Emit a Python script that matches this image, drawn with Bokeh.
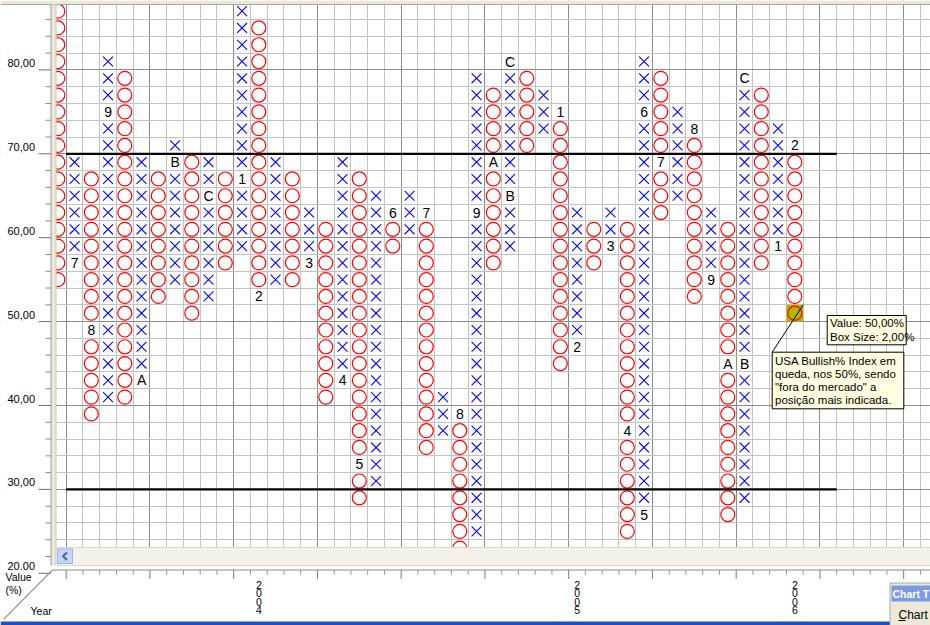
from bokeh.plotting import figure
from bokeh.models import Range1d, FixedTicker, Grid
from bokeh.core.properties import value
from bokeh.embed import file_html
from bokeh.resources import INLINE

# ---------------- data ----------------
BOX = 2  # box size, %
col_type = ["O", "X", "O", "X", "O", "X", "O", "X", "O", "X",
            "O", "X", "O", "X", "O", "X", "O", "X", "O", "X",
            "O", "X", "O", "X", "O", "X", "O", "X", "O", "X",
            "O", "X", "O", "X", "O", "X", "O", "X", "O", "X",
            "O", "X", "O", "X", "O"]
col_low = [54, 56, 38, 40, 40, 42, 52, 54, 50, 52,
           56, 58, 52, 54, 54, 56, 40, 42, 28, 30,
           58, 60, 34, 36, 22, 24, 56, 58, 70, 72,
           44, 46, 56, 58, 24, 26, 62, 64, 52, 54,
           26, 28, 56, 58, 50]
col_high = [86, 68, 66, 80, 78, 68, 66, 70, 68, 68,
            66, 86, 84, 68, 66, 62, 60, 68, 66, 64,
            62, 64, 62, 40, 38, 78, 76, 80, 78, 76,
            74, 62, 60, 62, 60, 80, 78, 74, 72, 62,
            60, 78, 76, 72, 70]
month_col = [1, 2, 3, 5, 7, 9, 11, 12, 15, 17, 18, 20, 22, 24, 25, 26,
             27, 27, 30, 31, 33, 34, 35, 35, 36, 38, 39, 40, 41, 41, 43, 44]
month_val = [56, 48, 74, 42, 68, 64, 66, 52, 56, 42, 32, 62, 62, 38, 62, 68,
             64, 80, 74, 46, 58, 36, 26, 74, 68, 72, 54, 44, 44, 78, 58, 70]
month_txt = ["7", "8", "9", "A", "B", "C", "1", "2", "3", "4", "5", "6", "7", "8", "9", "A",
             "B", "C", "1", "2", "3", "4", "5", "6", "7", "8", "9", "A", "B", "C", "1", "2"]
levels = [70, 30]                 # signal lines
level_cols = [1, 46]              # first / last column spanned by the signal lines
year_labels = ["2004", "2005", "2006"]
year_cols = [12, 31, 44]
y_tick_vals = [20, 30, 40, 50, 60, 70, 80]
y_tick_text = ["20.00", "30,00", "40,00", "50,00", "60,00", "70,00", "80,00"]
y_minor_vals = list(range(20, 88, BOX))
current_col, current_val = 44, 50
tooltip_lines = ["Value: 50,00%", "Box Size: 2,00%"]
note_lines = ["USA Bullish% Index em", "queda, nos 50%, sendo",
              "\"fora do mercado\" a", "posição mais indicada."]
axis_title_y = ["Value", "(%)"]
axis_title_x = "Year"

# ---------------- pixel calibration of the reference window ----------------
W, H = 930, 625
PX_C, PX_U = 16.75, 8.39          # px per column, px per % unit
X0_REF, Y70_REF = 57.3, 153.3     # px of column 0 centre, px of the 70% line


def dx(rx):
    return (rx - X0_REF) / PX_C


def dy(ry):
    return 70 - (ry - Y70_REF) / PX_U


FONT = value("Liberation Sans")

p = figure(width=W, height=H, output_backend="svg", toolbar_location=None,
           x_range=Range1d(dx(0), dx(W)), y_range=Range1d(dy(H), dy(0)),
           x_axis_type=None, y_axis_type=None,
           min_border_left=0, min_border_right=0, min_border_top=0, min_border_bottom=0)
p.outline_line_color = None
p.background_fill_color = "white"
p.border_fill_color = "white"

bounds_all = [c + 0.5 for c in range(-1, 54)]
bounds_major = [b for b in bounds_all if (b - 0.5) % 5 == 0]

# chart grid
p.add_layout(Grid(dimension=0, ticker=FixedTicker(ticks=bounds_major, minor_ticks=bounds_all),
                  grid_line_color="#8c8c8c", minor_grid_line_color="#c3c3c3"), "center")
p.add_layout(Grid(dimension=1, ticker=FixedTicker(ticks=y_tick_vals, minor_ticks=list(range(16, 92, BOX))),
                  grid_line_color="#8c8c8c", minor_grid_line_color="#c3c3c3"), "center")

# current box highlight
p.quad(left=[current_col - 0.5], right=[current_col + 0.5],
       bottom=[current_val], top=[current_val + BOX],
       fill_color="#b4b400", line_color=None)

# X and O boxes
labeled = set(zip(month_col, month_val))
xx, xy, ox, oy = [], [], [], []
for c, (t, lo, hi) in enumerate(zip(col_type, col_low, col_high)):
    for v in range(lo, hi + BOX, BOX):
        if (c, v) in labeled:
            continue
        if t == "X":
            xx.append(c); xy.append(v + BOX / 2)
        else:
            ox.append(c); oy.append(v + BOX / 2)
p.scatter(xx, xy, marker="x", size=14, line_color="#0000ff", line_width=1.1)
p.scatter(ox, oy, marker="circle", size=14, fill_color=None, line_color="#ff0000", line_width=1.2)
p.text(month_col, [v + BOX / 2 for v in month_val], text=month_txt, text_font=FONT,
       text_font_size="14px", text_align="center", text_baseline="middle", text_color="black")

# signal lines
p.segment(x0=[level_cols[0] - 0.5] * len(levels), x1=[level_cols[1] + 0.5] * len(levels),
          y0=levels, y1=levels, line_color="black", line_width=2.2)

# pointer line + callouts
p.segment(x0=[current_col + 0.5], y0=[current_val + BOX], x1=[dx(771.7)], y1=[dy(351.7)],
          line_color="black", line_width=1)
p.quad(left=[dx(826.7)], right=[dx(905.7)], top=[dy(315)], bottom=[dy(344.3)],
       fill_color="#ffffe1", line_color="black", line_width=1)
p.text([dx(829.5)] * 2, [dy(322.5), dy(336.5)], text=tooltip_lines, text_font=FONT,
       text_font_size="11.5px", text_align="left", text_baseline="middle", text_color="black")
p.quad(left=[dx(771.7)], right=[dx(903.3)], top=[dy(351.7)], bottom=[dy(408.3)],
       fill_color="#ffffe1", line_color="black", line_width=1)
p.text([dx(774.5)] * 4, [dy(360), dy(373.3), dy(386.7), dy(399.6)], text=note_lines,
       text_font=FONT, text_font_size="11.5px", text_align="left", text_baseline="middle",
       text_color="black")

# ---------------- window chrome around the chart area ----------------
p.quad(left=[dx(0)], right=[dx(50.5)], top=[dy(0)], bottom=[dy(H)], fill_color="white", line_color=None)
p.quad(left=[dx(0)], right=[dx(W)], top=[dy(565)], bottom=[dy(H)], fill_color="white", line_color=None)
p.quad(left=[dx(0)], right=[dx(W)], top=[dy(0)], bottom=[dy(4)], fill_color="#ece9d8", line_color=None)
p.segment(x0=[dx(0)], x1=[dx(W)], y0=[dy(4)], y1=[dy(4)], line_color="#a8a8a0")
p.quad(left=[dx(50.5)], right=[dx(55.5)], top=[dy(4)], bottom=[dy(565)],
       fill_color="#ece9d8", line_color=None)
p.segment(x0=[dx(50.5), dx(55.5)], x1=[dx(50.5), dx(55.5)], y0=[dy(4)] * 2, y1=[dy(565)] * 2,
          line_color=["#9a9a9a", "#c9c5b5"])

# horizontal scrollbar
p.quad(left=[dx(55.5)], right=[dx(W + 5)], top=[dy(547)], bottom=[dy(565)],
       fill_color="#f3f1e9", line_color="#dcd8c8")
p.quad(left=[dx(57)], right=[dx(72)], top=[dy(548.5)], bottom=[dy(563)],
       fill_color="#c5d5fb", line_color="#9fb4e6")
p.line([dx(66.5), dx(62.5), dx(66.5)], [dy(552), dy(555.8), dy(559.5)],
       line_color="#4d6185", line_width=2)

# y axis: ticks and labels
p.segment(x0=[dx(38)] * len(y_tick_vals), x1=[dx(50.5)] * len(y_tick_vals),
          y0=y_tick_vals, y1=y_tick_vals, line_color="#707070")
ymin = [v for v in y_minor_vals if v not in y_tick_vals]
p.segment(x0=[dx(45)] * len(ymin), x1=[dx(50.5)] * len(ymin), y0=ymin, y1=ymin,
          line_color="#8a8a8a")
p.text([dx(34.5)] * len(y_tick_vals), [v + 7 / PX_U for v in y_tick_vals], text=y_tick_text,
       text_font=FONT, text_font_size="11px", text_align="right", text_baseline="middle",
       text_color="black")

# x axis: line, ticks, stacked year labels
p.segment(x0=[dx(52)], x1=[dx(W)], y0=[dy(569.5)], y1=[dy(569.5)], line_color="#8a8a8a")
bmaj = [b for b in bounds_major if b > 0]
bmin = [b for b in bounds_all if b > 0 and b not in bounds_major]
p.segment(x0=bmaj, x1=bmaj, y0=[dy(569.5)] * len(bmaj), y1=[dy(578.5)] * len(bmaj),
          line_color="#7a7a7a")
p.segment(x0=bmin, x1=bmin, y0=[dy(569.5)] * len(bmin), y1=[dy(574.5)] * len(bmin),
          line_color="#9a9a9a")
yc_x, yc_y, yc_t = [], [], []
for lab, c in zip(year_labels, year_cols):
    for i, ch in enumerate(lab):
        yc_x.append(c)
        yc_y.append(dy(584 + 8.5 * i))
        yc_t.append(ch)
p.text(yc_x, yc_y, text=yc_t, text_font=FONT, text_font_size="10.5px",
       text_align="center", text_baseline="middle", text_color="black")

# axis titles and the 3-D corner line
p.segment(x0=[dx(3)], y0=[dy(619)], x1=[dx(52)], y1=[dy(569.5)], line_color="#9a9a9a", line_width=1.2)
p.text([dx(5)] * 2, [dy(576), dy(589)], text=axis_title_y, text_font=FONT,
       text_font_size="10.5px", text_align="left", text_baseline="middle", text_color="black")
p.text([dx(30)], [dy(610)], text=[axis_title_x], text_font=FONT,
       text_font_size="10.5px", text_align="left", text_baseline="middle", text_color="black")

# fragment of another window at the bottom right
p.quad(left=[dx(0)], right=[dx(W)], top=[dy(621)], bottom=[dy(H + 5)], fill_color="#1c4fc4", line_color=None)
p.quad(left=[dx(889.5)], right=[dx(W + 5)], top=[dy(582.5)], bottom=[dy(H + 5)],
       fill_color="#ece9d8", line_color="#a9a9a9")
p.quad(left=[dx(891)], right=[dx(W + 5)], top=[dy(585)], bottom=[dy(601)],
       fill_color="#7d9be2", line_color=None)
p.text([dx(892)], [dy(593.5)], text=["Chart T"], text_font=FONT, text_font_size="10.5px",
       text_font_style="bold", text_align="left", text_baseline="middle", text_color="white")
p.text([dx(898)], [dy(614)], text=["Chart"], text_font=FONT, text_font_size="12px",
       text_align="left", text_baseline="middle", text_color="black")
p.segment(x0=[dx(898)], x1=[dx(905)], y0=[dy(620)], y1=[dy(620)], line_color="black")

open("out.html", "w").write(file_html(p, INLINE))
